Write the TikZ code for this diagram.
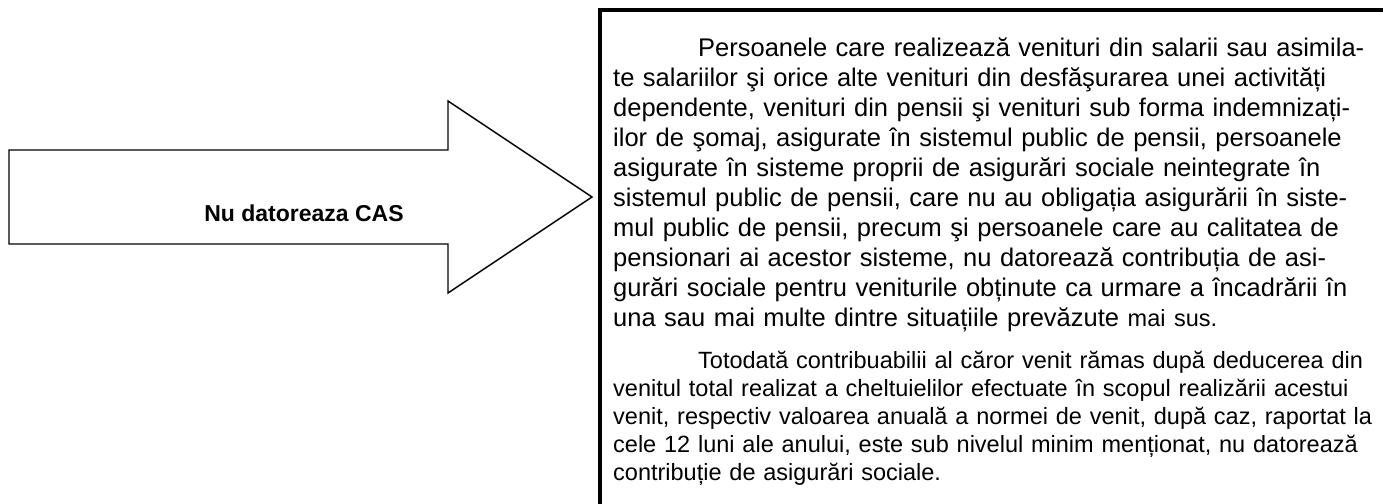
\documentclass[tikz,border=0pt]{standalone}
\usepackage{fontspec}
\setmainfont{Liberation Sans}
\newcommand\jline[1]{\makebox[755pt][s]{#1}}
\begin{document}
\begin{tikzpicture}[x=1pt,y=-1pt,
  arrowshape/.style={draw, line width=1.4pt, line join=miter, fill=white},
  frame/.style={draw, line width=3.5pt},
  arrowtext/.style={font=\fontsize{23}{27}\selectfont\bfseries, inner sep=0pt},
  paraA/.style={font=\fontsize{25.5}{30}\selectfont, align=left, text width=755pt, inner sep=0pt, anchor=north west},
  paraB/.style={font=\fontsize{23.5}{28}\selectfont, align=left, text width=755pt, inner sep=0pt, anchor=north west}]
\useasboundingbox (0,0) rectangle (1383,503);
\clip (0,0) rectangle (1383,503);
\fill[white] (0,0) rectangle (1383,503);
% arrow
\draw[arrowshape] (9,150) -- (448,150) -- (448,101) -- (592,197) -- (448,293) -- (448,244) -- (9,244) -- cycle;
\node[arrowtext] (lbl) at (304,213) {Nu datoreaza CAS};
% frame
\draw[frame] (600,10) rectangle (1400,520);
\node[paraA] (p1) at (613,37) {%
\jline{\hspace*{85pt}Persoanele care realizează venituri din salarii sau asimila-}\\
\jline{te salariilor şi orice alte venituri din desfăşurarea unei activități}\\
\jline{dependente, venituri din pensii şi venituri sub forma indemnizați-}\\
\jline{ilor de şomaj, asigurate în sistemul public de pensii, persoanele}\\
\jline{asigurate în sisteme proprii de asigurări sociale neintegrate în}\\
\jline{sistemul public de pensii, care nu au obligația asigurării în siste-}\\
\jline{mul public de pensii, precum şi persoanele care au calitatea de}\\
\jline{pensionari ai acestor sisteme, nu datorează contribuția de asi-}\\
\jline{gurări sociale pentru veniturile obținute ca urmare a încadrării în}\\
una sau mai multe dintre situațiile prevăzute {\fontsize{23.5}{28}\selectfont mai sus.}};
\node[paraB] (p2) at (613,351) {%
\jline{\hspace*{85pt}Totodată contribuabilii al căror venit rămas după deducerea din}\\
\jline{venitul total realizat a cheltuielilor efectuate în scopul realizării acestui}\\
\jline{venit, respectiv valoarea anuală a normei de venit, după caz, raportat la}\\
\jline{cele 12 luni ale anului, este sub nivelul minim menționat, nu datorează}\\
contribuție de asigurări sociale.};
\end{tikzpicture}
\end{document}
